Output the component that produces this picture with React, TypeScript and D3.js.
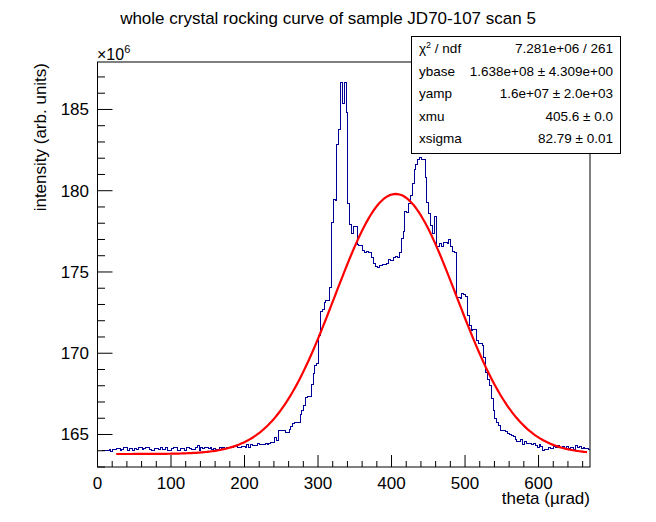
import React from "react";
import * as d3 from "d3";

const TITLE = "whole crystal rocking curve of sample JD70-107 scan 5";
const X_TITLE = "theta (\u00b5rad)";
const Y_TITLE = "intensity (arb. units)";

const X_DOMAIN = [0, 670];
const Y_DOMAIN = [163, 187.92];
const X_MAJOR = [0, 100, 200, 300, 400, 500, 600];
const Y_MAJOR = [165, 170, 175, 180, 185];

// histogram: bins of width 2.5 starting at 5 (values in units of 1e6)
const BIN_START = 5;
const BIN_WIDTH = 2.5;
const counts = [
  // 5 - 22.5
  164.06, 164.06, 164.05, 164.07, 164.12, 163.98, 164.08, 164.08,
  // 25
  164.14, 164.14, 164.06, 164.1, 164.22, 164.22, 164.06, 164.14, 164.14, 164.06,
  // 50
  164.18, 164.1, 164.22, 164.22, 164.1, 164.14, 164.22, 164.22, 164.1, 164.06,
  // 75
  164.06, 164.18, 164.18, 164.1, 164.24, 164.12, 164.12, 164.22, 164.06, 164.06,
  // 100
  164.14, 164.26, 164.26, 164.06, 164.06, 164.14, 164.18, 164.06, 164.22, 164.22,
  // 125
  164.14, 164.12, 164.12, 164.22, 164.34, 164.06, 164.26, 164.14, 164.22, 164.22,
  // 150
  164.18, 164.2, 164.12, 164.16, 164.1, 164.08, 164.22, 164.12, 164.26, 164.18,
  // 175
  164.22, 164.2, 164.26, 164.24, 164.3, 164.28, 164.22, 164.2, 164.3, 164.28,
  // 200
  164.26, 164.43, 164.26, 164.43, 164.37, 164.37, 164.37, 164.47, 164.43, 164.39,
  // 225
  164.39, 164.47, 164.39, 164.47, 164.51, 164.51, 164.84, 164.68, 165.25, 165.29,
  // 250
  165.29, 165.25, 165.15, 165.15, 165.36, 165.5, 165.71, 165.74, 165.77, 165.77,
  // 275
  166.28, 166.49, 166.79, 167.31, 167.35, 167.35, 168.13, 168.8, 169.3, 169.37,
  // 300
  171.11, 172.61, 172.7, 173.17, 173.28, 173.28, 174.06, 178.07, 179.49, 179.45,
  // 325
  182.9, 183.8, 186.7, 185.38, 186.7, 184.86, 179.24, 177.95, 177.4, 177.85,
  // 350
  177.85, 176.73, 176.63, 176.63, 176.36, 176.2, 176.26, 176.2, 176.2, 175.9,
  // 375
  175.54, 175.38, 175.3, 175.44, 175.44, 175.5, 175.5, 175.58, 175.79, 175.73,
  // 400
  175.73, 175.9, 175.99, 175.93, 176.22, 177.1, 177.5, 178.73, 178.67, 179.25,
  // 425
  179.76, 180.48, 181.35, 181.67, 181.93, 182.09, 181.98, 181.98, 180.85, 179.28,
  // 450
  178.63, 177.91, 177.4, 178.42, 176.57, 176.6, 176.78, 176.6, 176.84, 176.84,
  // 475
  176.76, 177.0, 176.57, 176.26, 176.2, 173.48, 173.48, 173.37, 173.69, 173.65,
  // 500
  173.55, 172.35, 171.73, 171.43, 171.47, 171.47, 170.81, 170.6, 170.6, 170.5,
  // 525
  169.78, 168.85, 168.44, 168.03, 167.27, 166.49, 166.03, 165.77, 165.56, 165.29,
  // 550
  165.25, 165.29, 165.21, 165.09, 165.0, 164.94, 164.88, 164.7, 164.63, 164.63,
  // 575
  164.7, 164.43, 164.6, 164.47, 164.5, 164.47, 164.39, 164.5, 164.33, 164.23,
  // 600
  164.39, 164.27, 164.06, 164.13, 164.13, 164.23, 164.19, 164.19, 164.27, 164.23,
  // 625
  164.33, 164.23, 164.23, 164.29, 164.19, 164.27, 164.19, 164.23, 164.23, 164.1,
  // 650
  164.33, 164.23, 164.31, 164.15, 164.23, 164.19, 164.19, 164.1,
];

// fit: gaussian with parameters from the stats box (y in units of 1e6)
const FIT_YBASE = 163.8;
const FIT_YAMP = 16.0;
const FIT_XMU = 405.6;
const FIT_XSIGMA = 82.79;
const FIT_RANGE = [25.5, 666];

const STAT_NAMES = ["\u03c7", "ybase", "yamp", "xmu", "xsigma"];
const STAT_VALUES = [
  "7.281e+06 / 261",
  "1.638e+08 \u00b1 4.309e+00",
  "1.6e+07 \u00b1 2.0e+03",
  "405.6 \u00b1 0.0",
  "82.79 \u00b1 0.01",
];

const W = 656;
const H = 522;
const FL = 97.5;
const FR = 590;
const FT = 62;
const FB = 467;
const FONT = "'Liberation Sans', Arial, Helvetica, sans-serif";

export default function App() {
  const x = d3.scaleLinear().domain(X_DOMAIN).range([FL, FR]);
  const y = d3.scaleLinear().domain(Y_DOMAIN).range([FB, FT]);

  const pts: [number, number][] = counts.map((v, i) => [BIN_START + i * BIN_WIDTH, v]);
  pts.push([BIN_START + counts.length * BIN_WIDTH, counts[counts.length - 1]]);
  const histPath = d3
    .line<[number, number]>()
    .x((d) => Math.round(x(d[0])) + 0.5)
    .y((d) => Math.round(y(d[1])) + 0.5)
    .curve(d3.curveStepAfter)(pts) as string;

  const fx = d3.range(0, 301).map((i) => FIT_RANGE[0] + ((FIT_RANGE[1] - FIT_RANGE[0]) * i) / 300);
  const fitPath = d3
    .line<number>()
    .x((d) => x(d))
    .y((d) => y(FIT_YBASE + FIT_YAMP * Math.exp(-((d - FIT_XMU) ** 2) / (2 * FIT_XSIGMA * FIT_XSIGMA))))(fx) as string;

  const xMinor = d3.range(0, 671, 20).filter((v) => v % 100 !== 0);
  const yMinor = d3.range(163, 188, 1).filter((v) => v % 5 !== 0);

  const boxL = 411.5;
  const boxR = 620.5;
  const boxT = 36.5;
  const boxB = 153.5;

  return (
    <svg
      width={W}
      height={H}
      style={{ position: "absolute", left: 0, top: 0, background: "#fff" }}
      fontFamily={FONT}
    >
      <rect x={0} y={0} width={W} height={H} fill="#fff" />
      <text x={328} y={24} textAnchor="middle" fontSize={17}>
        {TITLE}
      </text>

      <defs>
        <clipPath id="frameClip">
          <rect x={FL} y={FT} width={FR - FL} height={FB - FT} />
        </clipPath>
      </defs>

      <g clipPath="url(#frameClip)">
        <path d={histPath} fill="none" stroke="#000099" strokeWidth={1.1} shapeRendering="crispEdges" />
        <path d={fitPath} fill="none" stroke="#ff0000" strokeWidth={2.2} />
      </g>

      <rect x={FL} y={FT} width={FR - FL} height={FB - FT} fill="none" stroke="#000" strokeWidth={1} />

      {/* x axis ticks */}
      {X_MAJOR.map((v) => (
        <g key={"xm" + v}>
          <line x1={x(v)} x2={x(v)} y1={FB} y2={FB - 12} stroke="#000" />
          <text x={x(v)} y={489} textAnchor="middle" fontSize={17}>
            {v}
          </text>
        </g>
      ))}
      {xMinor.map((v) => (
        <line key={"xn" + v} x1={x(v)} x2={x(v)} y1={FB} y2={FB - 6} stroke="#000" />
      ))}

      {/* y axis ticks */}
      {Y_MAJOR.map((v) => (
        <g key={"ym" + v}>
          <line x1={FL} x2={FL + 15} y1={y(v)} y2={y(v)} stroke="#000" />
          <text x={89} y={y(v) + 6} textAnchor="end" fontSize={17}>
            {v}
          </text>
        </g>
      ))}
      {yMinor.map((v) => (
        <line key={"yn" + v} x1={FL} x2={FL + 7.5} y1={y(v)} y2={y(v)} stroke="#000" />
      ))}

      <text x={97} y={60} fontSize={16}>
        {"\u00d710"}
        <tspan dy={-7} fontSize={11}>
          6
        </tspan>
      </text>

      <text x={FR} y={504} textAnchor="end" fontSize={17}>
        {X_TITLE}
      </text>
      <text transform={`translate(46, 63) rotate(-90)`} textAnchor="end" fontSize={17}>
        {Y_TITLE}
      </text>

      {/* stats box */}
      <rect x={boxL} y={boxT} width={boxR - boxL} height={boxB - boxT} fill="#fff" stroke="#000" strokeWidth={1} />
      {STAT_NAMES.map((n, i) => (
        <g key={"st" + i}>
          <text x={419} y={48.3 + 22.5 * i + 5} fontSize={13.5}>
            {i === 0 ? (
              <>
                {n}
                <tspan dy={-5} fontSize={9}>
                  2
                </tspan>
                <tspan dy={5}>{" / ndf"}</tspan>
              </>
            ) : (
              n
            )}
          </text>
          <text x={613} y={48.3 + 22.5 * i + 5} fontSize={13.5} textAnchor="end">
            {STAT_VALUES[i]}
          </text>
        </g>
      ))}
    </svg>
  );
}
